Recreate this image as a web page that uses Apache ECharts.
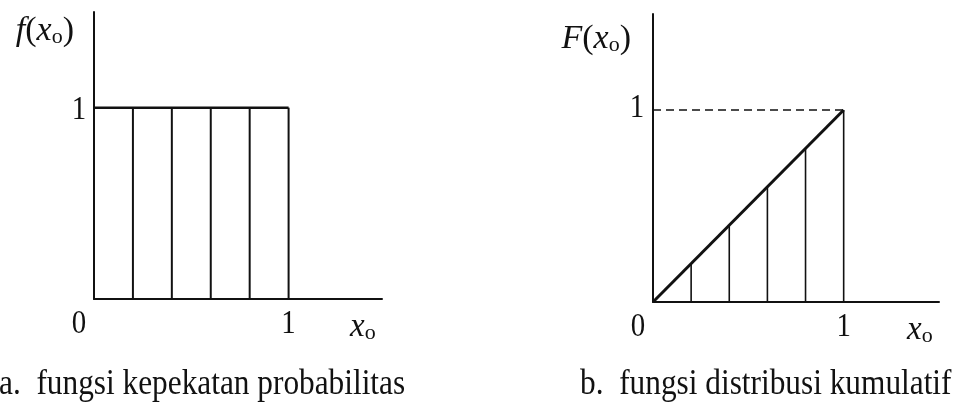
<!DOCTYPE html>
<html>
<head>
<meta charset="utf-8">
<script src="https://cdn.jsdelivr.net/npm/echarts@6/dist/echarts.min.js"></script>
<style>
  html, body { margin: 0; padding: 0; background: #fff; }
  #chart { width: 967px; height: 409px; }
</style>
</head>
<body>
<div id="chart"></div>
<script>
// Uniform distribution on [0, 1]: density f(x0) and cumulative F(x0)
const stepX = [0.2, 0.4, 0.6, 0.8, 1.0];
const densityY = [1, 1, 1, 1, 1];
const cumulativeY = [0.2, 0.4, 0.6, 0.8, 1.0];
const densityTopX = [0, 1];
const densityTopY = [1, 1];
const cumulativeLineX = [0, 1];
const cumulativeLineY = [0, 1];
const unitLevelX = [0, 1];
const unitLevelY = [1, 1];
const tickValues = [0, 1];
const tickText = ['0', '1'];
const captions = ['a.  fungsi kepekatan probabilitas', 'b.  fungsi distribusi kumulatif'];
const yNames = ['f', 'F'];

const SERIF = 'Liberation Serif, Times New Roman, serif';
const INK = '#111';

const pairs = (xs, ys) => xs.map((x, i) => [x, ys[i]]);

function stemSeries(gridIndex, data, width) {
  return {
    type: 'custom',
    xAxisIndex: gridIndex,
    yAxisIndex: gridIndex,
    silent: true,
    data: data,
    renderItem: function (params, api) {
      const x = api.value(0);
      const y = api.value(1);
      const p0 = api.coord([x, 0]);
      const p1 = api.coord([x, y]);
      return {
        type: 'line',
        shape: { x1: p0[0], y1: p0[1], x2: p1[0], y2: p1[1] },
        style: { stroke: INK, lineWidth: width }
      };
    }
  };
}

function lineSeries(gridIndex, data, width, type) {
  return {
    type: 'line',
    xAxisIndex: gridIndex,
    yAxisIndex: gridIndex,
    data: data,
    symbol: 'none',
    silent: true,
    lineStyle: { color: INK, width: width, type: type || 'solid' }
  };
}

const axisBase = {
  type: 'value',
  axisLine: { show: true, onZero: true, lineStyle: { color: INK, width: 2 } },
  axisTick: { show: false },
  axisLabel: { show: false },
  splitLine: { show: false }
};

const chart = echarts.init(document.getElementById('chart'), null, { renderer: 'canvas' });

chart.setOption({
  animation: false,
  backgroundColor: '#fff',
  grid: [
    { left: 94, top: 12, width: 288, height: 287, outerBoundsMode: 'none' },
    { left: 653, top: 14, width: 286, height: 288, outerBoundsMode: 'none' }
  ],
  xAxis: [
    Object.assign({}, axisBase, { gridIndex: 0, min: 0, max: 1.48 }),
    Object.assign({}, axisBase, { gridIndex: 1, min: 0, max: 1.5 })
  ],
  yAxis: [
    Object.assign({}, axisBase, { gridIndex: 0, min: 0, max: 1.5 }),
    Object.assign({}, axisBase, { gridIndex: 1, min: 0, max: 1.5 })
  ],
  series: [
    // (a) density: top edge and vertical strips
    lineSeries(0, pairs(densityTopX, densityTopY), 2.5),
    stemSeries(0, pairs(stepX, densityY), 2),
    // (b) cumulative: reference level, diagonal and ordinates
    lineSeries(1, pairs(unitLevelX, unitLevelY), 1.6, [8, 5]),
    stemSeries(1, pairs(stepX, cumulativeY), 1.6),
    lineSeries(1, pairs(cumulativeLineX, cumulativeLineY), 3)
  ]
});

function richName(letter) {
  return {
    text: '{i|' + letter + '}{n|(}{i|x}{s|o}{n|)}',
    rich: {
      i: { fontFamily: SERIF, fontStyle: 'italic', fontSize: 34, fill: INK },
      n: { fontFamily: SERIF, fontSize: 34, fill: INK },
      s: { fontFamily: SERIF, fontSize: 22, fill: INK, padding: [12, 0, 0, 0] }
    }
  };
}

function label(x, y, text, opts) {
  opts = opts || {};
  return {
    type: 'text',
    x: x,
    y: y,
    scaleX: opts.scaleX || 0.85,
    silent: true,
    style: Object.assign({
      text: text,
      fontFamily: SERIF,
      fontSize: opts.fontSize || 34,
      fill: INK,
      align: opts.align || 'center',
      verticalAlign: opts.verticalAlign || 'middle'
    }, opts.style || {})
  };
}

const graphics = [];
[0, 1].forEach(function (g) {
  const origin = chart.convertToPixel({ gridIndex: g }, [0, 0]);
  const yOne = chart.convertToPixel({ gridIndex: g }, [0, 1]);
  const xMax = chart.getModel().getComponent('xAxis', g).get('max');
  const xEnd = chart.convertToPixel({ gridIndex: g }, [xMax, 0]);
  const yTop = chart.convertToPixel({ gridIndex: g }, [0, 1.5]);

  // tick labels on the horizontal axis
  tickValues.forEach(function (v, k) {
    const p = chart.convertToPixel({ gridIndex: g }, [v, 0]);
    const shift = v === 0 ? -15 : 0;
    graphics.push(label(p[0] + shift, p[1] + 25, tickText[k]));
  });
  // tick label "1" on the vertical axis
  graphics.push(label(yOne[0] - (g === 0 ? 15 : 16), yOne[1] + (g === 0 ? 2 : -2), tickText[1]));

  // axis names
  const yName = richName(yNames[g]);
  graphics.push({
    type: 'text', x: origin[0] - (g === 0 ? 20 : 22), y: yTop[1] + (g === 0 ? 19 : 25),
    silent: true,
    style: { text: yName.text, rich: yName.rich, align: 'right', verticalAlign: 'middle' }
  });
  graphics.push({
    type: 'text', x: xEnd[0] - 32, y: xEnd[1] + 28,
    silent: true,
    style: {
      text: '{i|x}{s|o}',
      rich: {
        i: { fontFamily: SERIF, fontStyle: 'italic', fontSize: 33, fill: INK },
        s: { fontFamily: SERIF, fontSize: 22, fill: INK, padding: [12, 0, 0, 0] }
      },
      align: 'left', verticalAlign: 'middle'
    }
  });
});

// captions under each panel
graphics.push(label(-1, 403, captions[0], { align: 'left', verticalAlign: 'bottom', fontSize: 36, scaleX: 0.87 }));
graphics.push(label(580, 403, captions[1], { align: 'left', verticalAlign: 'bottom', fontSize: 36, scaleX: 0.87 }));

chart.setOption({ graphic: graphics });
</script>
</body>
</html>
